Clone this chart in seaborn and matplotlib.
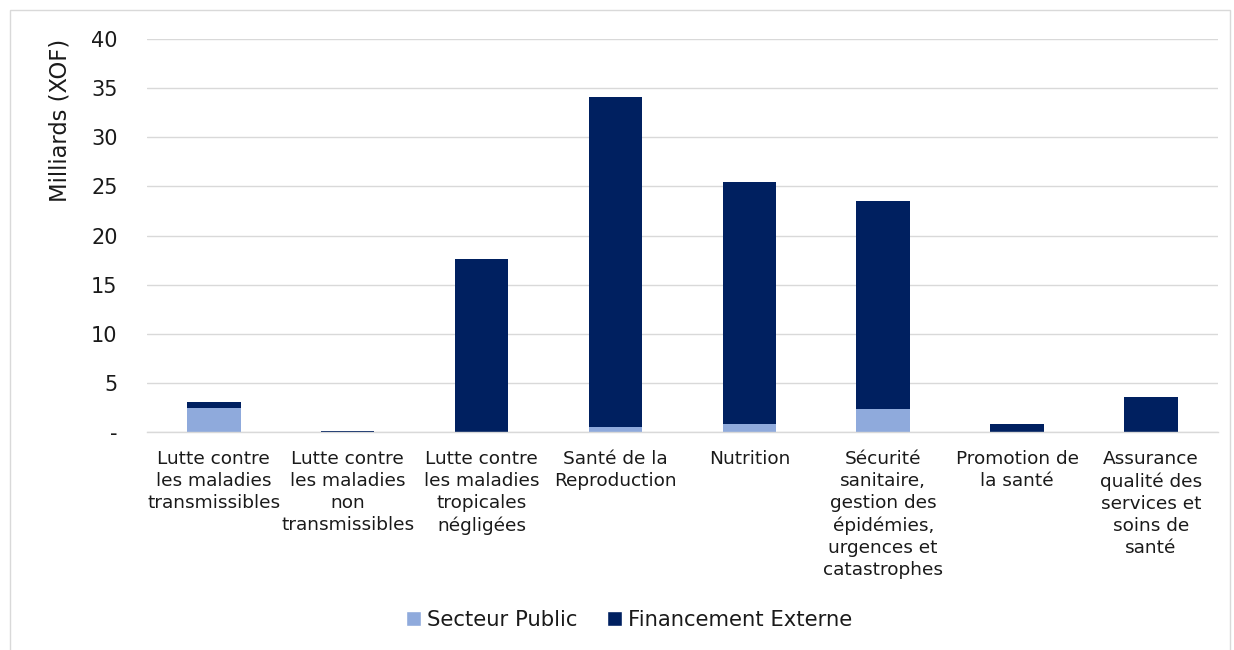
import matplotlib
matplotlib.use("Agg")
import matplotlib.pyplot as plt
import seaborn as sns
import pandas as pd
from matplotlib.patches import Rectangle, Patch

categories = [
    "Lutte contre\nles maladies\ntransmissibles",
    "Lutte contre\nles maladies\nnon\ntransmissibles",
    "Lutte contre\nles maladies\ntropicales\nnégligées",
    "Santé de la\nReproduction",
    "Nutrition",
    "Sécurité\nsanitaire,\ngestion des\népidémies,\nurgences et\ncatastrophes",
    "Promotion de\nla santé",
    "Assurance\nqualité des\nservices et\nsoins de\nsanté",
]
secteur_public = [2.45, 0.06, 0.0, 0.58, 0.88, 2.37, 0.0, 0.0]
financement_externe = [0.63, 0.06, 17.6, 33.5, 24.57, 21.19, 0.85, 3.56]
y_ticks = [0, 5, 10, 15, 20, 25, 30, 35, 40]
y_tick_labels = ["-", "5", "10", "15", "20", "25", "30", "35", "40"]

c_pub = "#8FAADC"
c_ext = "#002060"

df = pd.DataFrame({
    "cat": categories,
    "pub": secteur_public,
    "total": [p + e for p, e in zip(secteur_public, financement_externe)],
})

sns.set_theme(style="white")
plt.rcParams["font.family"] = ["DejaVu Sans"]

fig = plt.figure(figsize=(12.34, 6.5), dpi=100)
ax = fig.add_axes([0.119, 0.335, 0.868, 0.605])

sns.barplot(data=df, x="cat", y="total", order=categories, color=c_ext,
            width=0.4, saturation=1, ax=ax, linewidth=0)
sns.barplot(data=df, x="cat", y="pub", order=categories, color=c_pub,
            width=0.4, saturation=1, ax=ax, linewidth=0)

ax.set_ylim(0, 40)
ax.set_yticks(y_ticks)
ax.set_yticklabels(y_tick_labels, fontsize=15, color="#1a1a1a")
ax.set_xticks(range(len(categories)))
ax.set_xticklabels(categories, fontsize=13.3, color="#1a1a1a", linespacing=1.28, va="top")
ax.set_xlim(-0.5, len(categories) - 0.5)
ax.yaxis.grid(True, color="#D9D9D9", linewidth=1)
ax.set_axisbelow(True)
for s in ["top", "right", "left"]:
    ax.spines[s].set_visible(False)
ax.spines["bottom"].set_color("#D9D9D9")
ax.spines["bottom"].set_linewidth(1)
ax.tick_params(axis="x", length=0, pad=13)
ax.tick_params(axis="y", length=0, pad=21)
ax.set_xlabel("")
ax.set_ylabel("Milliards (XOF)", fontsize=16.3, color="#1a1a1a", loc="top")
ax.yaxis.set_label_coords(-0.07, 1.0)

handles = [Patch(facecolor=c_pub, label="Secteur Public"),
           Patch(facecolor=c_ext, label="Financement Externe")]
fig.legend(handles=handles, loc="center", bbox_to_anchor=(0.51, 0.046), ncol=2,
           frameon=False, fontsize=15.2, handlelength=0.7, handleheight=0.7,
           handletextpad=0.3, columnspacing=1.4, labelcolor="#1a1a1a")

fig.patches.append(Rectangle((10 / 1234, -0.01), 1220 / 1234, 0.995, transform=fig.transFigure,
                             fill=False, edgecolor="#D9D9D9", linewidth=1))

fig.savefig("out.png", dpi=100)
